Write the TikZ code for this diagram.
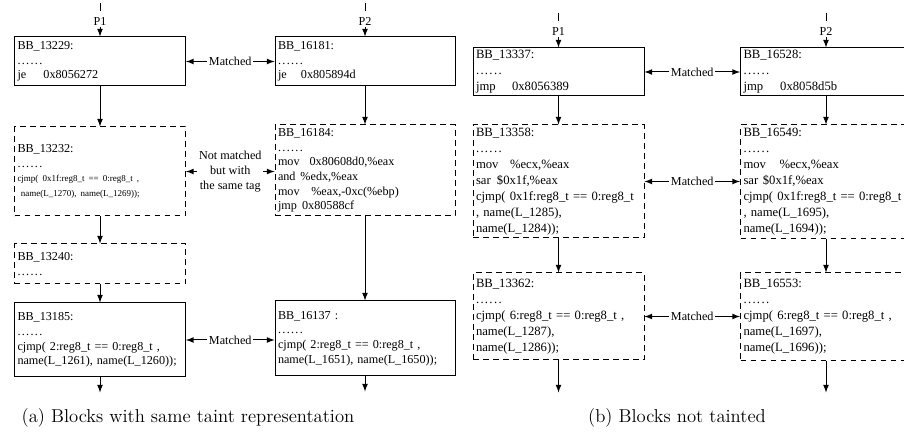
\documentclass[tikz,border=0pt]{standalone}
\usepackage{fontspec}
\newfontfamily\asmfont{Liberation Serif}
\usepackage{tikz}
\usetikzlibrary{arrows,positioning}

\newcommand{\op}[2]{\makebox[#1][l]{#2}}
\newcommand{\skipped}{.\kern0.8pt.\kern0.8pt.\kern0.8pt.\kern0.8pt.\kern0.8pt.}
\newcommand{\smallasm}{\fontsize{5.4}{8.8}\selectfont}

\begin{document}
\begin{tikzpicture}[x=0.6pt, y=-0.6pt,
    block/.style={draw, semithick, align=left, inner xsep=1.8pt, inner ysep=0.5pt, font=\asmfont\fontsize{7.3}{8.8}\selectfont},
    bigasm/.style={font=\asmfont\fontsize{7.6}{9.6}\selectfont},
    narrow/.style={minimum width=102.6pt, text width=99pt},
    wide/.style={minimum width=108pt, text width=104.4pt},
    taint/.style={dash pattern=on 3.5pt off 2.5pt},
    flow/.style={-latex, semithick},
    match/.style={latex-latex, semithick},
    tag/.style={fill=white, inner sep=1pt, font=\asmfont\fontsize{7.3}{9}\selectfont, align=center},
    entry/.style={inner sep=1pt, font=\asmfont\fontsize{7.3}{9}\selectfont},
    caption/.style={font=\fontsize{11.2}{13}\selectfont}
]
\useasboundingbox (0,0) rectangle (904,437);
\clip (0,0) rectangle (904,437);

% (a) blocks with the same taint
\node[block, narrow, minimum height=29.4pt] (bb13229) at (100,61.5)
    {BB\_13229:\\ \skipped\\ \op{15.6pt}{je}0x8056272};
\node[block, narrow, taint, minimum height=53.4pt, below=24pt of bb13229] (bb13232)
    {BB\_13232:\\ \skipped\\ {\smallasm cjmp( 0x1f:reg8\_t == 0:reg8\_t ,}\\ {\smallasm\hspace{2pt}name(L\_1270), name(L\_1269));}};
\node[block, narrow, taint, minimum height=24pt, below=16.2pt of bb13232] (bb13240)
    {BB\_13240:\\ \skipped};
\node[block, narrow, minimum height=44.4pt, below=10.8pt of bb13240] (bb13185)
    {BB\_13185:\\ \skipped\\ cjmp( 2:reg8\_t == 0:reg8\_t ,\\ name(L\_1261), name(L\_1260));};

\node[block, wide, minimum height=29.4pt] (bb16181) at (365,61.5)
    {BB\_16181:\\ \skipped\\ \op{13.8pt}{je}0x805894d};
\node[block, wide, taint, minimum height=54.6pt, below=22.8pt of bb16181] (bb16184)
    {BB\_16184:\\ \skipped\\ \op{19pt}{mov}0x80608d0,\%eax\\ \op{13.5pt}{and}\%edx,\%eax\\ \op{20pt}{mov}\%eax,-0xc(\%ebp)\\ \op{14.5pt}{jmp}0x80588cf};
\node[block, wide, minimum height=45pt, below=50.4pt of bb16184] (bb16137)
    {BB\_16137 :\\ \skipped\\ cjmp( 2:reg8\_t == 0:reg8\_t ,\\ name(L\_1651), name(L\_1650));};

\coordinate (pa1top) at (100,3);
\node[entry] (pa1) at (100,21) {P1};
\coordinate (pa2top) at (365,3);
\node[entry] (pa2) at (365,21) {P2};
\draw[semithick, shorten >=2.5pt] (pa1top) -- (pa1.north);
\draw[semithick, shorten >=2.5pt] (pa2top) -- (pa2.north);
\draw[flow] (pa1) -- (bb13229);
\draw[flow] (pa2) -- (bb16181);

\draw[flow] (bb13229) -- (bb13232);
\draw[flow] (bb13232) -- (bb13240);
\draw[flow] (bb13240) -- (bb13185);
\draw[flow] (bb16181) -- (bb16184);
\draw[flow] (bb16184) -- (bb16137);
\coordinate[below=9pt of bb13185] (aout1);
\coordinate[below=9pt of bb16137] (aout2);
\draw[flow] (bb13185) -- (aout1);
\draw[flow] (bb16137) -- (aout2);

\draw[match] (bb13229) -- node[tag] {Matched} (bb16181);
\draw[match] (bb13232.east) -- node[tag] {Not matched\\but with\\the same tag} (bb13232.east -| bb16184.west);
\draw[match] (bb13185.east) -- node[tag] {Matched} (bb13185.east -| bb16137.west);

\node[caption] (capa) at (188,418) {(a) Blocks with same taint representation};

% (b) blocks not tainted
\node[block, bigasm, narrow, minimum height=28.8pt] (bb13337) at (558.5,72)
    {BB\_13337:\\ \skipped\\ \op{21.6pt}{jmp}0x8056389};
\node[block, bigasm, narrow, taint, minimum height=67.8pt, below=16.8pt of bb13337] (bb13358)
    {BB\_13358:\\ \skipped\\ \op{20.4pt}{mov}\%ecx,\%eax\\ \op{12.6pt}{sar}\$0x1f,\%eax\\ cjmp( 0x1f:reg8\_t == 0:reg8\_t\\ , name(L\_1285),\\ name(L\_1284));};
\node[block, bigasm, narrow, taint, minimum height=52.2pt, below=20.4pt of bb13358] (bb13362)
    {BB\_13362:\\ \skipped\\ cjmp( 6:reg8\_t == 0:reg8\_t ,\\ name(L\_1287),\\ name(L\_1286));};

\node[block, bigasm, narrow, minimum height=28.8pt] (bb16528) at (826,72)
    {BB\_16528:\\ \skipped\\ \op{22pt}{jmp}0x8058d5b};
\node[block, bigasm, narrow, taint, minimum height=68.4pt, below=16.8pt of bb16528] (bb16549)
    {BB\_16549:\\ \skipped\\ \op{21.6pt}{mov}\%ecx,\%eax\\ \op{11.6pt}{sar}\$0x1f,\%eax\\ cjmp( 0x1f:reg8\_t == 0:reg8\_t\\ , name(L\_1695),\\ name(L\_1694));};
\node[block, bigasm, narrow, taint, minimum height=52.8pt, below=19.8pt of bb16549] (bb16553)
    {BB\_16553:\\ \skipped\\ cjmp( 6:reg8\_t == 0:reg8\_t ,\\ name(L\_1697),\\ name(L\_1696));};

\coordinate (pb1top) at (558.5,13);
\node[entry] (pb1) at (558.5,31) {P1};
\coordinate (pb2top) at (826,13);
\node[entry] (pb2) at (826,31) {P2};
\draw[semithick, shorten >=2.5pt] (pb1top) -- (pb1.north);
\draw[semithick, shorten >=2.5pt] (pb2top) -- (pb2.north);
\draw[flow] (pb1) -- (bb13337);
\draw[flow] (pb2) -- (bb16528);

\draw[flow] (bb13337) -- (bb13358);
\draw[flow] (bb13358) -- (bb13362);
\draw[flow] (bb16528) -- (bb16549);
\draw[flow] (bb16549) -- (bb16553);
\coordinate[below=19.2pt of bb13362] (bout1);
\coordinate[below=18.6pt of bb16553] (bout2);
\draw[flow] (bb13362) -- (bout1);
\draw[flow] (bb16553) -- (bout2);

\draw[match] (bb13337) -- node[tag] {Matched} (bb16528);
\draw[match] (bb13358.east) -- node[tag] {Matched} (bb13358.east -| bb16549.west);
\draw[match] (bb13362.east) -- node[tag] {Matched} (bb13362.east -| bb16553.west);

\node[caption] (capb) at (677,418) {(b) Blocks not tainted};
\end{tikzpicture}
\end{document}
